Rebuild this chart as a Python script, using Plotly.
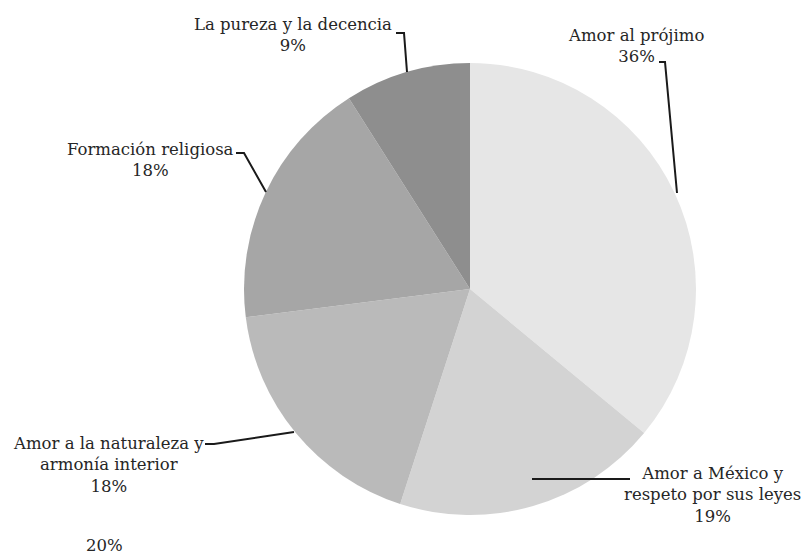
import plotly.graph_objects as go

W, H = 802, 557

# Categories and shares (%)
categories = [
    "Amor al prójimo",
    "Amor a México y<br>respeto por sus leyes",
    "Amor a la naturaleza y<br>armonía interior",
    "Formación religiosa",
    "La pureza y la decencia",
]
values = [36, 19, 18, 18, 9]
colors = ["#e6e6e6", "#d3d3d3", "#bababa", "#a6a6a6", "#8e8e8e"]

# Label placement (pixels) and leader-line paths (pixels)
label_pos = [(636, 46), (712, 495), (108, 465), (150, 160), (293, 35)]
leaders = [
    [(659, 62), (665, 62), (677, 193)],
    [(630, 479), (532, 479)],
    [(205, 444), (214, 444), (294, 432)],
    [(236, 153), (244, 153), (266, 192)],
    [(396, 33), (404, 33), (407, 72)],
]

def px(x):
    return x / W

def py(y):
    return 1 - y / H

cx, cy, r = 470, 289, 226

fig = go.Figure(
    go.Pie(
        labels=categories,
        values=values,
        sort=False,
        direction="clockwise",
        rotation=0,
        marker=dict(colors=colors, line=dict(width=0)),
        textinfo="none",
        hoverinfo="label+percent",
        showlegend=False,
        domain=dict(x=[px(cx - r), px(cx + r)], y=[py(cy + r), py(cy - r)]),
    )
)

font = dict(family="'DejaVu Serif', serif", size=16.5, color="#262626")

for cat, val, (lx, ly) in zip(categories, values, label_pos):
    fig.add_annotation(
        x=px(lx), y=py(ly), xref="paper", yref="paper",
        text=f"{cat}<br>{val}%", showarrow=False, align="center",
        font=font, xanchor="center", yanchor="middle",
    )

for path in leaders:
    d = "M " + " L ".join(f"{px(x)} {py(y)}" for x, y in path)
    fig.add_shape(type="path", path=d, xref="paper", yref="paper",
                  line=dict(color="#1a1a1a", width=2))

# small figure at the lower edge
fig.add_annotation(x=px(104), y=py(557), xref="paper", yref="paper",
                   text="20%", showarrow=False, font=font,
                   xanchor="center", yanchor="bottom")

fig.update_layout(
    width=W, height=H,
    margin=dict(l=0, r=0, t=0, b=0),
    paper_bgcolor="white", plot_bgcolor="white",
)

fig.write_html("out.html")
